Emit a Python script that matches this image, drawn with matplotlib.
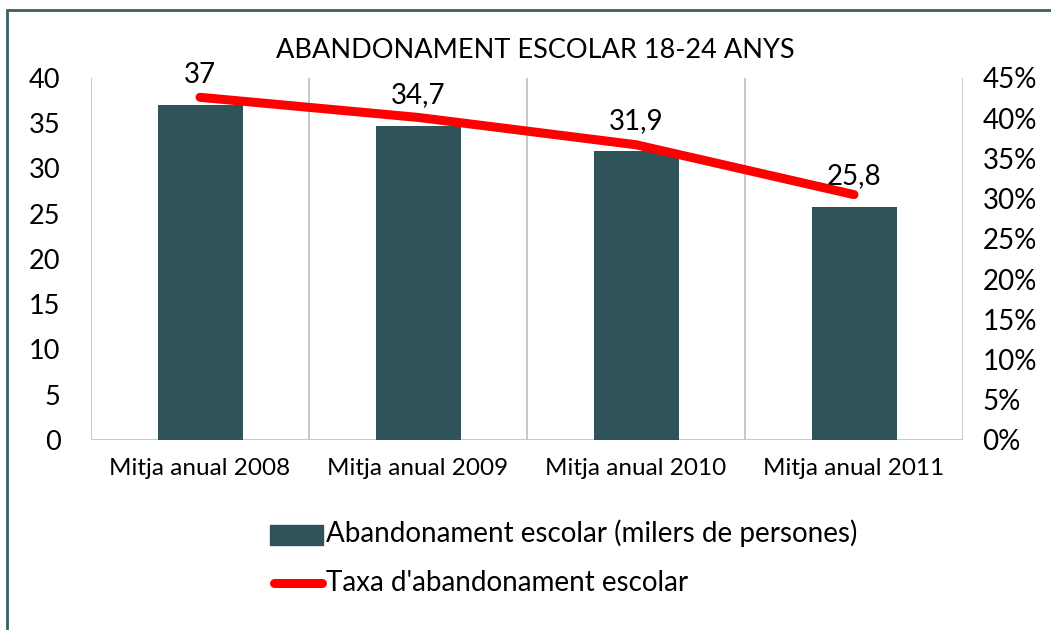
import matplotlib
matplotlib.use("Agg")
import matplotlib.pyplot as plt
from matplotlib.patches import Rectangle
from matplotlib.ticker import FuncFormatter

plt.rcParams["font.family"] = ["Lato", "DejaVu Sans"]

categories = ["Mitja anual 2008", "Mitja anual 2009", "Mitja anual 2010", "Mitja anual 2011"]
abandonament = [37, 34.7, 31.9, 25.8]          # milers de persones
taxa = [0.426, 0.401, 0.367, 0.305]             # taxa d'abandonament

bar_color = "#2E5359"
line_color = "#FF0000"
grid_color = "#BFBFBF"

fig = plt.figure(figsize=(10.51, 6.30), dpi=100)
ax = fig.add_axes([0.0866, 0.3016, 0.8297, 0.5746])
x = range(len(categories))

ax.bar(x, abandonament, width=0.39, color=bar_color, zorder=2)
ax.set_xlim(-0.5, len(categories) - 0.5)
ax.set_ylim(0, 40)
ax.set_yticks(range(0, 41, 5))
ax.set_xticks(list(x))
ax.set_xticklabels(categories, fontsize=17.5)
ax.tick_params(axis="y", labelsize=19.5, length=0, pad=22)
ax.tick_params(axis="x", length=0, pad=13)
for s in ax.spines.values():
    s.set_visible(False)
ax.axhline(0, color=grid_color, lw=1.2, zorder=1)
for b in [i - 0.5 for i in range(len(categories) + 1)]:
    ax.axvline(b, color=grid_color, lw=1.2, zorder=1)

for xi, v in zip(x, abandonament):
    ax.annotate(f"{v:g}".replace(".", ","), (xi, v), xytext=(0, 22),
                textcoords="offset points", ha="center", va="center", fontsize=20, zorder=5)

ax2 = ax.twinx()
ax2.plot(list(x), taxa, color=line_color, lw=6.5, solid_capstyle="round", zorder=3)
ax2.set_ylim(0, 0.45)
ax2.set_yticks([i * 0.05 for i in range(10)])
ax2.yaxis.set_major_formatter(FuncFormatter(lambda v, p: f"{round(v * 100)}%"))
ax2.tick_params(axis="y", labelsize=20, length=0, pad=14)
for s in ax2.spines.values():
    s.set_visible(False)

fig.text(0.509, 0.92, "ABANDONAMENT ESCOLAR 18-24 ANYS", ha="center", va="center", fontsize=19.5)

# legend drawn manually below the plot
fig.patches.append(Rectangle((270 / 1051, 1 - 545 / 630), 53 / 1051, 20 / 630,
                             transform=fig.transFigure, color=bar_color))
fig.text(326 / 1051, 1 - 533 / 630, "Abandonament escolar (milers de persones)",
         ha="left", va="center", fontsize=20)
fig.add_artist(plt.Line2D([274 / 1051, 322 / 1051], [1 - 583 / 630] * 2,
                          transform=fig.transFigure, color=line_color, lw=6.5,
                          solid_capstyle="round"))
fig.text(326 / 1051, 1 - 583 / 630, "Taxa d'abandonament escolar",
         ha="left", va="center", fontsize=20)

# outer frame
fig.patches.append(Rectangle((7 / 1051, -0.05), 1.1, 1 - 10 / 630 + 0.05,
                             transform=fig.transFigure, fill=False,
                             edgecolor="#3D5E62", lw=2))

fig.savefig("out.png", dpi=100)
